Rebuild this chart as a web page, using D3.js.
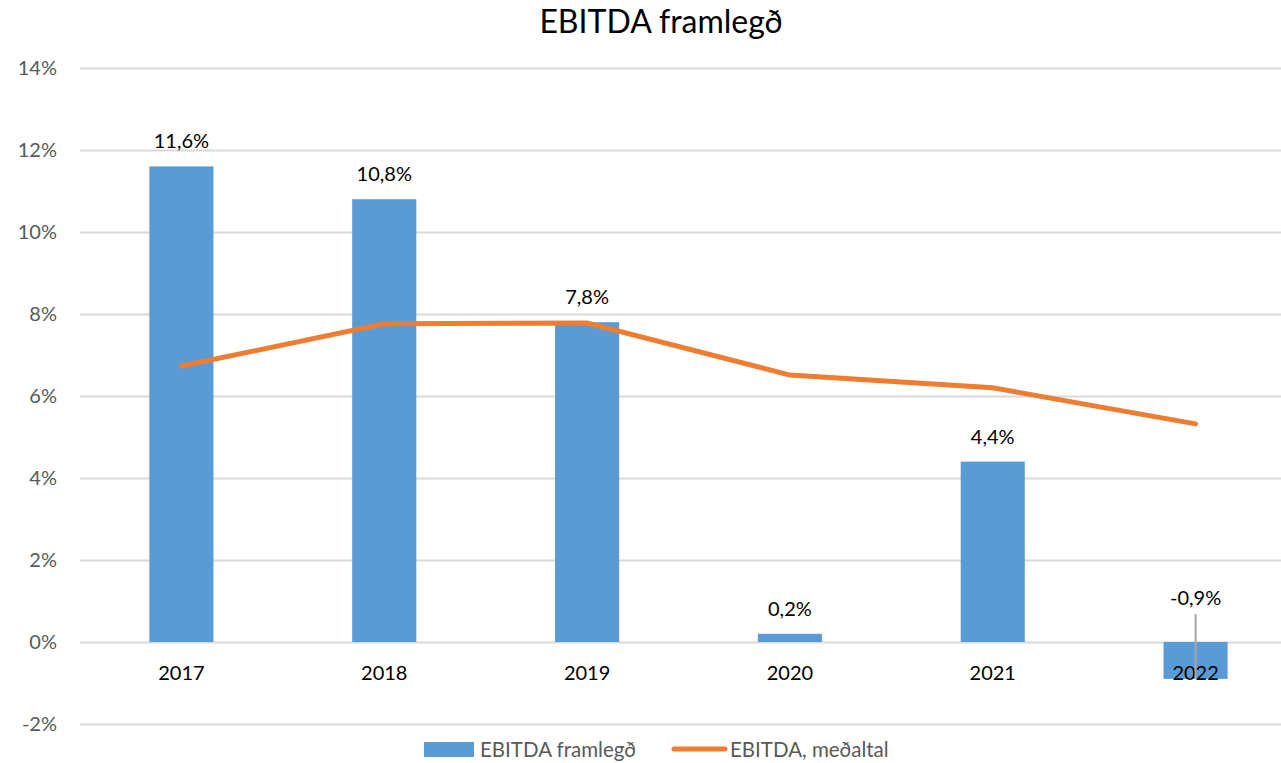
<!DOCTYPE html>
<html>
<head>
<meta charset="utf-8">
<script src="https://cdn.jsdelivr.net/npm/d3@7"></script>
<style>
    body { margin: 0; background: #fff; }
    svg { display: block; font-family: Lato, 'Open Sans', sans-serif; }
</style>
</head>
<body>
<svg id="chart" width="1281" height="763"></svg>
<script>
const years = ['2017', '2018', '2019', '2020', '2021', '2022'];
const margin = [11.6, 10.8, 7.8, 0.2, 4.4, -0.9];
const average = [6.73, 7.76, 7.78, 6.51, 6.2, 5.32];
const yTicks = [-2, 0, 2, 4, 6, 8, 10, 12, 14];

const svg = d3.select('#chart');

// scales
const x = d3.scaleBand()
    .domain(years)
    .range([80, 1297])
    .paddingInner(0.684)
    .paddingOuter(0.342);

const y = d3.scaleLinear()
    .domain([-2, 14])
    .range([724, 68]);

// Excel style: comma decimal, plain hyphen for minus
const fmt = v => (v < 0 ? '-' : '') + Math.abs(v).toFixed(1).replace('.', ',') + '%';

// Title
svg.append('text')
    .attr('x', 661)
    .attr('y', 33)
    .attr('text-anchor', 'middle')
    .style('font-size', '32px')
    .attr('fill', '#000')
    .text('EBITDA framlegð');

// Gridlines + y labels
const yAxis = svg.append('g')
    .attr('transform', 'translate(80,0)')
    .call(d3.axisLeft(y).tickValues(yTicks).tickSize(-1201).tickFormat(d => d + '%'));
yAxis.select('.domain').remove();
yAxis.selectAll('line').attr('stroke', '#d9d9d9').attr('stroke-width', 2);
yAxis.selectAll('text')
    .attr('x', -23)
    .attr('fill', '#595959')
    .style('font-size', '20px')
    .style('font-family', 'Lato, sans-serif');

// Bars
svg.selectAll('.bar')
    .data(years)
    .enter()
    .append('rect')
    .attr('class', 'bar')
    .attr('x', d => x(d))
    .attr('width', x.bandwidth())
    .attr('y', (d, i) => y(Math.max(0, margin[i])))
    .attr('height', (d, i) => Math.abs(y(margin[i]) - y(0)))
    .attr('fill', '#5b9bd5');

// X axis labels
svg.selectAll('.xlab')
    .data(years)
    .enter()
    .append('text')
    .attr('x', d => x(d) + x.bandwidth() / 2)
    .attr('y', y(0) + 38)
    .attr('text-anchor', 'middle')
    .style('font-size', '20px')
    .attr('fill', '#000')
    .text(d => d);

// Average line
const lineGen = d3.line()
    .x((d, i) => x(years[i]) + x.bandwidth() / 2)
    .y(d => y(d));

svg.append('path')
    .attr('d', lineGen(average))
    .attr('stroke', '#ed7d31')
    .attr('stroke-width', 5)
    .attr('stroke-linecap', 'round')
    .attr('fill', 'none');

// Data labels
years.forEach((yr, i) => {
    const cx = x(yr) + x.bandwidth() / 2;
    const v = margin[i];
    let ly;
    if (v >= 0) {
        ly = y(v) - 18;
    } else {
        ly = y(0) - 37;
        // leader line
        svg.append('line')
            .attr('x1', cx).attr('x2', cx)
            .attr('y1', ly + 9).attr('y2', y(v))
            .attr('stroke', '#a6a6a6')
            .attr('stroke-width', 2);
    }
    svg.append('text')
        .attr('x', cx)
        .attr('y', ly)
        .attr('text-anchor', 'middle')
        .style('font-size', '20px')
        .attr('fill', '#000')
        .text(fmt(v));
});

// Legend
svg.append('rect')
    .attr('x', 424).attr('y', 742)
    .attr('width', 50).attr('height', 15)
    .attr('fill', '#5b9bd5');
svg.append('text')
    .attr('x', 480).attr('y', 757)
    .style('font-size', '20.5px')
    .attr('fill', '#595959')
    .text('EBITDA framlegð');
svg.append('line')
    .attr('x1', 674).attr('x2', 725)
    .attr('y1', 749).attr('y2', 749)
    .attr('stroke', '#ed7d31')
    .attr('stroke-width', 5)
    .attr('stroke-linecap', 'round');
svg.append('text')
    .attr('x', 730).attr('y', 757)
    .style('font-size', '20.5px')
    .attr('fill', '#595959')
    .text('EBITDA, meðaltal');
</script>
</body>
</html>
